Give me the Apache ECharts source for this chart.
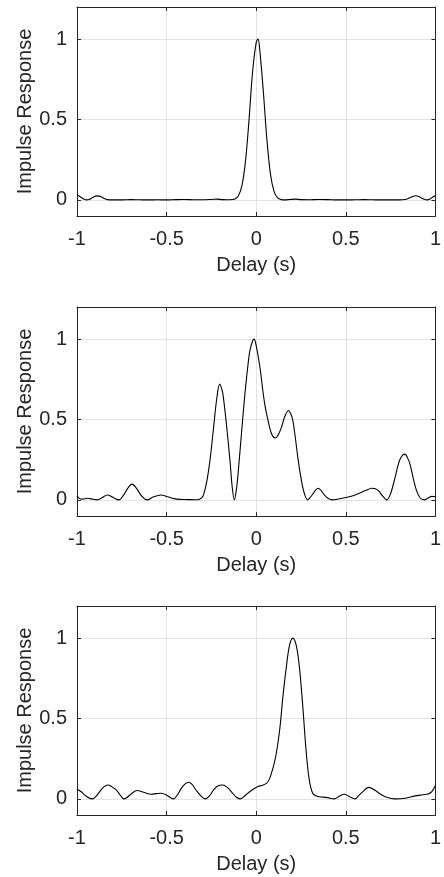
<!DOCTYPE html>
<html>
<head>
<meta charset="utf-8">
<script src="https://cdn.jsdelivr.net/npm/echarts@6/dist/echarts.min.js"></script>
<style>
  html, body { margin: 0; padding: 0; background: #ffffff; }
  #chart { width: 444px; height: 877px; }
</style>
</head>
<body>
<div id="chart"></div>
<script>
// Panel 1: single dominant path near zero delay
const delay1 = [-1.00, -0.98, -0.96, -0.945, -0.93, -0.91, -0.89, -0.87, -0.85, -0.83, -0.80, -0.75, -0.70, -0.65,
  -0.60, -0.55, -0.50, -0.45, -0.40, -0.35, -0.30, -0.25, -0.22, -0.19, -0.16, -0.13, -0.12, -0.10, -0.08, -0.06,
  -0.04, -0.02, 0.00, 0.01, 0.02, 0.04, 0.06, 0.08, 0.10, 0.12, 0.14, 0.16, 0.19, 0.22, 0.25, 0.30, 0.35, 0.40,
  0.45, 0.50, 0.55, 0.60, 0.65, 0.70, 0.75, 0.80, 0.83, 0.85, 0.87, 0.89, 0.91, 0.93, 0.955, 0.97, 0.985, 1.00];
const resp1 = [0.030, 0.018, 0.004, 0.000, 0.004, 0.016, 0.025, 0.022, 0.010, 0.002, 0.000, 0.000, 0.002, 0.001,
  0.000, 0.001, 0.000, 0.002, 0.003, 0.001, 0.001, 0.003, 0.005, 0.002, 0.001, 0.003, 0.005, 0.024, 0.087, 0.240,
  0.500, 0.800, 0.980, 1.000, 0.930, 0.670, 0.370, 0.157, 0.050, 0.012, 0.002, 0.000, 0.003, 0.005, 0.002, 0.001,
  0.003, 0.002, 0.000, 0.000, 0.001, 0.002, 0.001, 0.000, 0.000, 0.000, 0.003, 0.010, 0.020, 0.026, 0.020, 0.008,
  0.000, 0.006, 0.018, 0.028];

// Panel 2: multipath response
const delay2 = [-1.000, -0.985, -0.970, -0.940, -0.910, -0.887, -0.860, -0.831, -0.800, -0.766, -0.740, -0.715,
  -0.693, -0.670, -0.640, -0.609, -0.575, -0.532, -0.495, -0.459, -0.420, -0.385, -0.340, -0.320, -0.305, -0.293,
  -0.275, -0.256, -0.238, -0.219, -0.204, -0.195, -0.186, -0.168, -0.146, -0.134, -0.122, -0.110, -0.100, -0.081,
  -0.063, -0.045, -0.035, -0.020, -0.012, -0.002, 0.020, 0.047, 0.075, 0.090, 0.107, 0.125, 0.140, 0.160, 0.180,
  0.195, 0.205, 0.218, 0.232, 0.246, 0.260, 0.273, 0.287, 0.300, 0.315, 0.330, 0.346, 0.362, 0.380, 0.400, 0.425,
  0.460, 0.500, 0.540, 0.573, 0.610, 0.646, 0.665, 0.683, 0.705, 0.729, 0.750, 0.775, 0.790, 0.803, 0.818, 0.830,
  0.845, 0.858, 0.875, 0.895, 0.915, 0.938, 0.960, 0.980, 1.000];
const resp2 = [0.025, 0.008, 0.005, 0.010, 0.004, 0.000, 0.014, 0.031, 0.016, 0.000, 0.030, 0.075,
  0.098, 0.075, 0.025, 0.000, 0.018, 0.031, 0.020, 0.008, 0.003, 0.002, 0.001, 0.003, 0.012, 0.035,
  0.120, 0.265, 0.450, 0.640, 0.720, 0.700, 0.660, 0.490, 0.240, 0.080, 0.000, 0.070, 0.180, 0.430,
  0.660, 0.850, 0.930, 0.990, 1.000, 0.970, 0.830, 0.600, 0.450, 0.400, 0.385, 0.410, 0.450, 0.520, 0.556,
  0.530, 0.490, 0.390, 0.265, 0.160, 0.077, 0.025, 0.000, 0.015, 0.035, 0.060, 0.073, 0.058, 0.031, 0.010, 0.000,
  0.006, 0.015, 0.026, 0.040, 0.058, 0.073, 0.070, 0.056, 0.025, 0.000, 0.040, 0.140, 0.210, 0.254, 0.280, 0.285,
  0.260, 0.223, 0.140, 0.056, 0.012, 0.000, 0.012, 0.022, 0.020];

// Panel 3: dominant path delayed by about 0.2 s
const delay3 = [-1.000, -0.978, -0.950, -0.915, -0.895, -0.873, -0.850, -0.827, -0.805, -0.781, -0.760, -0.738,
  -0.718, -0.698, -0.665, -0.645, -0.624, -0.587, -0.555, -0.528, -0.495, -0.462, -0.440, -0.418, -0.398, -0.378,
  -0.358, -0.339, -0.310, -0.284, -0.260, -0.238, -0.212, -0.186, -0.160, -0.136, -0.112, -0.090, -0.065, -0.035,
  -0.010, 0.011, 0.035, 0.057, 0.072, 0.085, 0.100, 0.112, 0.131, 0.149, 0.168, 0.186, 0.204, 0.223, 0.241, 0.260,
  0.278, 0.296, 0.315, 0.335, 0.352, 0.398, 0.435, 0.465, 0.490, 0.521, 0.551, 0.571, 0.591, 0.628, 0.665, 0.690,
  0.720, 0.775, 0.831, 0.886, 0.930, 0.959, 0.975, 0.987, 1.000];
const resp3 = [0.060, 0.046, 0.018, 0.000, 0.015, 0.046, 0.075, 0.087, 0.075, 0.056, 0.025, 0.000,
  0.012, 0.031, 0.052, 0.048, 0.040, 0.029, 0.033, 0.035, 0.020, 0.000, 0.025, 0.066, 0.092, 0.104,
  0.090, 0.060, 0.020, 0.000, 0.020, 0.056, 0.082, 0.087, 0.070, 0.041, 0.012, 0.000, 0.018, 0.046,
  0.065, 0.077, 0.085, 0.097, 0.120, 0.160, 0.220, 0.284, 0.430, 0.636, 0.820, 0.956, 1.000, 0.956, 0.820, 0.573,
  0.304, 0.118, 0.035, 0.018, 0.014, 0.008, 0.000, 0.018, 0.029, 0.014, 0.000, 0.020, 0.041, 0.072, 0.052, 0.032,
  0.014, 0.000, 0.004, 0.019, 0.026, 0.031, 0.040, 0.056, 0.083];

const xTicks = [-1, -0.5, 0, 0.5, 1];
const yTicks = [0, 0.5, 1];
const xLabel = 'Delay (s)';
const yLabel = 'Impulse Response';

const panels = [[delay1, resp1], [delay2, resp2], [delay3, resp3]];

const INK = '#262626';
const GRID = '#e3e3e3';
const FONT = '"Liberation Sans", Arial, Helvetica, sans-serif';
const gridTops = [7, 307, 606];

const grids = [], xAxes = [], yAxes = [], series = [];

panels.forEach(([d, r], i) => {
  grids.push({ left: 77, width: 362, top: gridTops[i], height: 209 });
  const xBase = { gridIndex: i, type: 'value', min: -1, max: 1, interval: 0.5 };
  const yBase = { gridIndex: i, type: 'value', min: -0.1, max: 1.2 };
  xAxes.push(Object.assign({}, xBase, {
    position: 'bottom',
    axisLine: { show: true, onZero: false, lineStyle: { color: INK, width: 1 } },
    axisTick: { show: true, inside: true, length: 4, lineStyle: { color: INK } },
    axisLabel: { color: INK, fontSize: 20, fontFamily: FONT, margin: 13,
      customValues: xTicks, formatter: v => String(v) },
    splitLine: { show: true, lineStyle: { color: GRID, width: 1 } },
    name: xLabel, nameLocation: 'middle', nameGap: 39, nameMoveOverlap: false,
    nameTextStyle: { color: INK, fontSize: 20, fontFamily: FONT }
  }));
  xAxes.push(Object.assign({}, xBase, {
    position: 'top',
    axisLine: { show: true, onZero: false, lineStyle: { color: INK, width: 1 } },
    axisTick: { show: true, inside: true, length: 4, lineStyle: { color: INK } },
    axisLabel: { show: false },
    splitLine: { show: false }
  }));
  yAxes.push(Object.assign({}, yBase, {
    position: 'left',
    axisLine: { show: true, onZero: false, lineStyle: { color: INK, width: 1 } },
    axisTick: { show: true, inside: true, length: 4, customValues: yTicks, lineStyle: { color: INK } },
    axisLabel: { color: INK, fontSize: 20, fontFamily: FONT, margin: 10,
      customValues: yTicks, formatter: v => String(v) },
    splitLine: { show: true, lineStyle: { color: GRID, width: 1 } },
    name: yLabel, nameLocation: 'middle', nameGap: 42, nameMoveOverlap: false,
    nameTextStyle: { color: INK, fontSize: 20, fontFamily: FONT }
  }));
  yAxes.push(Object.assign({}, yBase, {
    position: 'right',
    axisLine: { show: true, onZero: false, lineStyle: { color: INK, width: 1 } },
    axisTick: { show: true, inside: true, length: 4, customValues: yTicks, lineStyle: { color: INK } },
    axisLabel: { show: false },
    splitLine: { show: false }
  }));
  series.push({
    type: 'line',
    xAxisIndex: 2 * i,
    yAxisIndex: 2 * i,
    data: d.map((t, k) => [t, r[k]]),
    showSymbol: false,
    smooth: 0.35,
    lineStyle: { color: '#000000', width: 1.1 },
    silent: true,
    animation: false,
    z: 3
  });
});

const chart = echarts.init(document.getElementById('chart'), null, { renderer: 'canvas' });
chart.setOption({
  backgroundColor: '#ffffff',
  animation: false,
  grid: grids,
  xAxis: xAxes,
  yAxis: yAxes,
  series: series
});
</script>
</body>
</html>
